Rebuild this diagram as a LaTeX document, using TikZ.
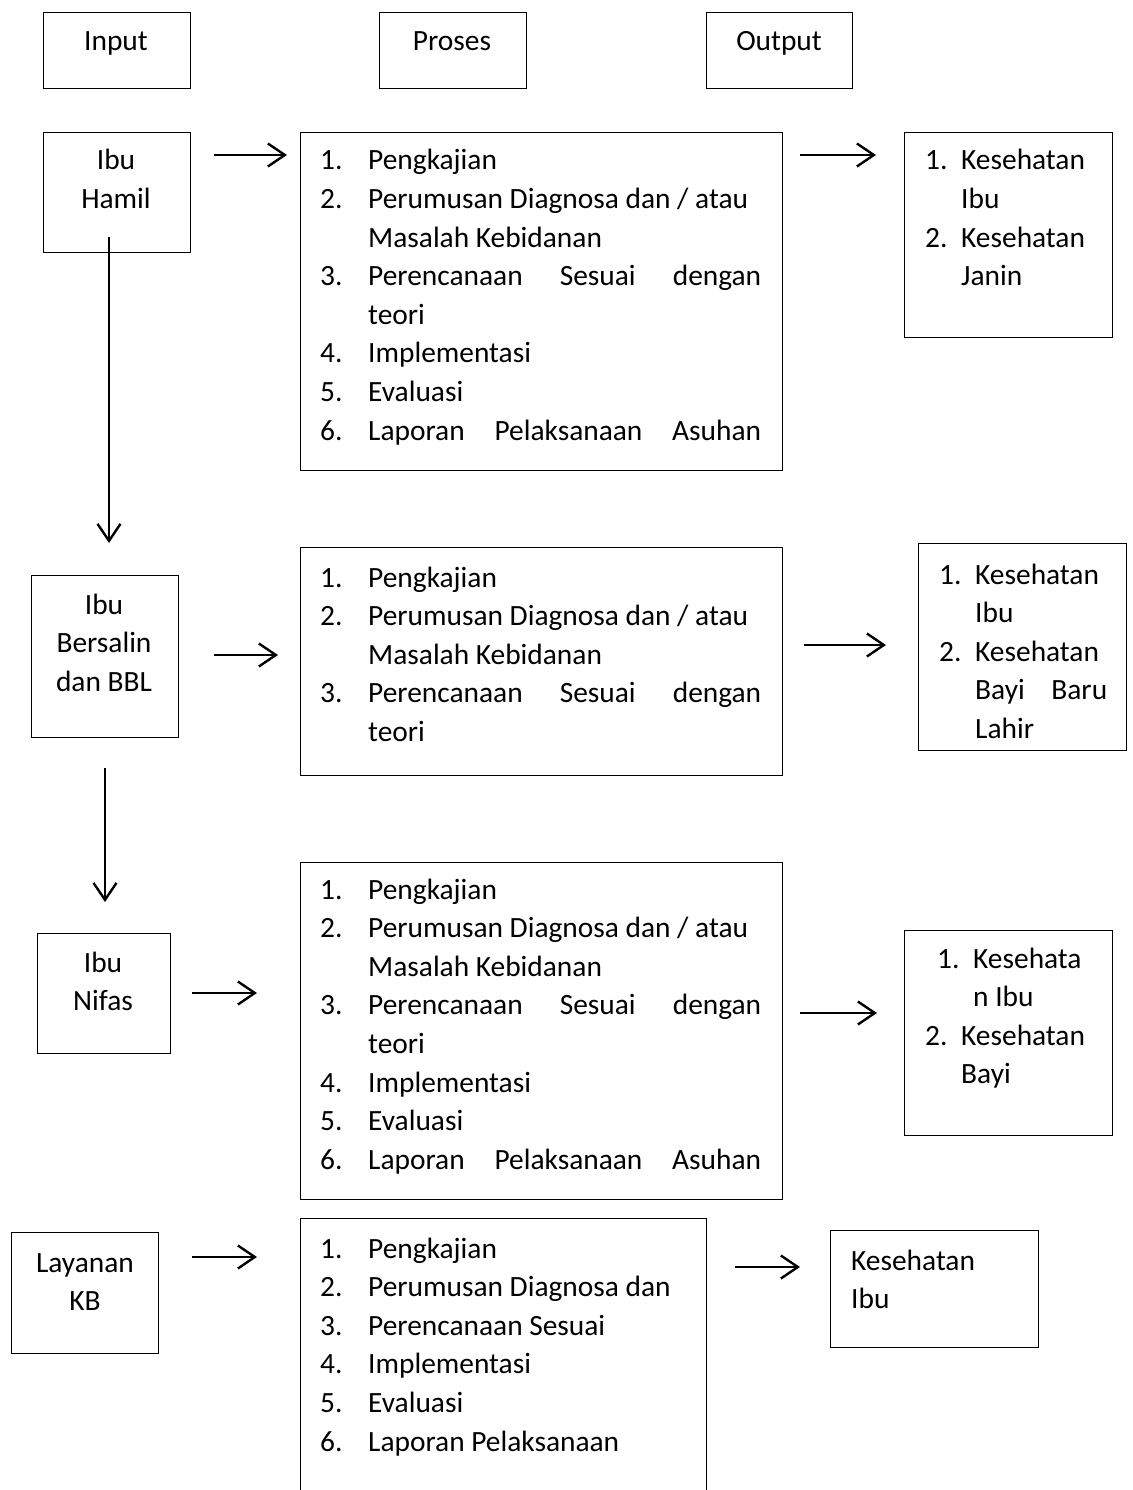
\documentclass[tikz,border=0pt]{standalone}
\usepackage{fontspec}
\setmainfont{Carlito}
\usetikzlibrary{arrows.meta}
\newcommand\itm[2]{\hbox{\makebox[48pt][l]{#1}#2}}
\newcommand\cnt[1]{\hbox{\hspace*{48pt}#1}}
\newcommand\oitm[2]{\hbox{\makebox[36pt][l]{#1}#2}}
\newcommand\ocnt[1]{\hbox{\hspace*{36pt}#1}}
\tikzset{
  box/.style={draw, line width=1.4pt, rectangle, anchor=north west, inner sep=0pt},
  txt/.style={inner sep=0pt, font=\fontsize{29.4pt}{38.6pt}\selectfont},
  lst/.style={txt, anchor=base west},
  ctr/.style={txt, anchor=base, align=center},
  arr/.style={line width=2.4pt, -{Straight Barb[length=17pt,width=23pt,line width=2.4pt]}}
}
\begin{document}
\begin{tikzpicture}[x=1pt,y=-1pt]
\useasboundingbox (0,0) rectangle (1132,1490);
\clip (0,0) rectangle (1132,1490);
% headers
\node[box, minimum width=147pt, minimum height=76pt] (hin) at (43,12) {};
\node[box, minimum width=147pt, minimum height=76pt] (hpr) at (379,12) {};
\node[box, minimum width=146pt, minimum height=76pt] (hout) at (706,12) {};
\node[ctr] (tin) at (116,51) {Input};
\node[ctr] (tpr) at (452,51) {Proses};
\node[ctr] (tout) at (779,51) {Output};
% row 1
\node[box, minimum width=147pt, minimum height=120pt] (hamil) at (43,132) {};
\node[ctr] (thamil) at (116,170) {\vtop{\hbox to 0pt{\hss Ibu\hss}\hbox to 0pt{\hss Hamil\hss}}};
\node[box, minimum width=482pt, minimum height=338pt] (p1) at (300,132) {};
\node[lst] (tp1) at (320,170) {\vtop{%
\itm{1.}{Pengkajian}
\itm{2.}{Perumusan Diagnosa dan / atau}
\cnt{Masalah Kebidanan}
\itm{3.}{\makebox[393pt][s]{Perencanaan Sesuai dengan}}
\cnt{teori}
\itm{4.}{Implementasi}
\itm{5.}{Evaluasi}
\itm{6.}{\makebox[393pt][s]{Laporan Pelaksanaan Asuhan}}}};
\node[box, minimum width=208pt, minimum height=205pt] (o1) at (904,132) {};
\node[lst] (to1) at (925,170) {\vtop{%
\oitm{1.}{Kesehatan}
\ocnt{Ibu}
\oitm{2.}{Kesehatan}
\ocnt{Janin}}};
\coordinate (a1s) at (214,155); \coordinate (a1e) at (287,155);
\coordinate (b1s) at (800,155); \coordinate (b1e) at (876,155);
\draw[arr] (a1s) -- (a1e);
\draw[arr] (b1s) -- (b1e);
\coordinate (v1s) at (109,237); \coordinate (v1e) at (109,543);
\draw[arr] (v1s) -- (v1e);
% row 2
\node[box, minimum width=147pt, minimum height=162pt] (bers) at (31,575) {};
\node[ctr] (tbers) at (104,614) {\vtop{\hbox to 0pt{\hss Ibu\hss}\hbox to 0pt{\hss Bersalin\hss}\hbox to 0pt{\hss dan BBL\hss}}};
\node[box, minimum width=482pt, minimum height=228pt] (p2) at (300,547) {};
\node[lst] (tp2) at (320,587) {\vtop{%
\itm{1.}{Pengkajian}
\itm{2.}{Perumusan Diagnosa dan / atau}
\cnt{Masalah Kebidanan}
\itm{3.}{\makebox[393pt][s]{Perencanaan Sesuai dengan}}
\cnt{teori}}};
\node[box, minimum width=208pt, minimum height=207pt] (o2) at (918,543) {};
\node[lst] (to2) at (939,584) {\vtop{%
\oitm{1.}{Kesehatan}
\ocnt{Ibu}
\oitm{2.}{Kesehatan}
\ocnt{\makebox[132pt][s]{Bayi Baru}}
\ocnt{Lahir}}};
\coordinate (a2s) at (214,655); \coordinate (a2e) at (278,655);
\coordinate (b2s) at (804,645); \coordinate (b2e) at (886,645);
\draw[arr] (a2s) -- (a2e);
\draw[arr] (b2s) -- (b2e);
\coordinate (v2s) at (105,768); \coordinate (v2e) at (105,902);
\draw[arr] (v2s) -- (v2e);
% row 3
\node[box, minimum width=133pt, minimum height=120pt] (nifas) at (37,933) {};
\node[ctr] (tnifas) at (103,972) {\vtop{\hbox to 0pt{\hss Ibu\hss}\hbox to 0pt{\hss Nifas\hss}}};
\node[box, minimum width=482pt, minimum height=337pt] (p3) at (300,862) {};
\node[lst] (tp3) at (320,899) {\vtop{%
\itm{1.}{Pengkajian}
\itm{2.}{Perumusan Diagnosa dan / atau}
\cnt{Masalah Kebidanan}
\itm{3.}{\makebox[393pt][s]{Perencanaan Sesuai dengan}}
\cnt{teori}
\itm{4.}{Implementasi}
\itm{5.}{Evaluasi}
\itm{6.}{\makebox[393pt][s]{Laporan Pelaksanaan Asuhan}}}};
\node[box, minimum width=208pt, minimum height=205pt] (o3) at (904,930) {};
\node[lst] (to3) at (925,968) {\vtop{%
\hbox{\hspace*{12pt}\oitm{1.}{Kesehata}}
\hbox{\hspace*{12pt}\ocnt{n Ibu}}
\oitm{2.}{Kesehatan}
\ocnt{Bayi}}};
\coordinate (a3s) at (192,993); \coordinate (a3e) at (257,993);
\coordinate (b3s) at (800,1013); \coordinate (b3e) at (877,1013);
\draw[arr] (a3s) -- (a3e);
\draw[arr] (b3s) -- (b3e);
% row 4
\node[box, minimum width=147pt, minimum height=121pt] (kb) at (11,1232) {};
\node[ctr] (tkb) at (85,1272) {\vtop{\hbox to 0pt{\hss Layanan\hss}\hbox to 0pt{\hss KB\hss}}};
\node[box, minimum width=406pt, minimum height=300pt] (p4) at (300,1218) {};
\node[lst] (tp4) at (320,1258) {\vtop{%
\itm{1.}{Pengkajian}
\itm{2.}{Perumusan Diagnosa dan}
\itm{3.}{Perencanaan Sesuai}
\itm{4.}{Implementasi}
\itm{5.}{Evaluasi}
\itm{6.}{Laporan Pelaksanaan}}};
\node[box, minimum width=208pt, minimum height=117pt] (o4) at (830,1230) {};
\node[lst] (to4) at (851,1270) {\vtop{\hbox{Kesehatan}\hbox{Ibu}}};
\coordinate (a4s) at (192,1257); \coordinate (a4e) at (257,1257);
\coordinate (b4s) at (735,1267); \coordinate (b4e) at (800,1267);
\draw[arr] (a4s) -- (a4e);
\draw[arr] (b4s) -- (b4e);
\end{tikzpicture}
\end{document}
